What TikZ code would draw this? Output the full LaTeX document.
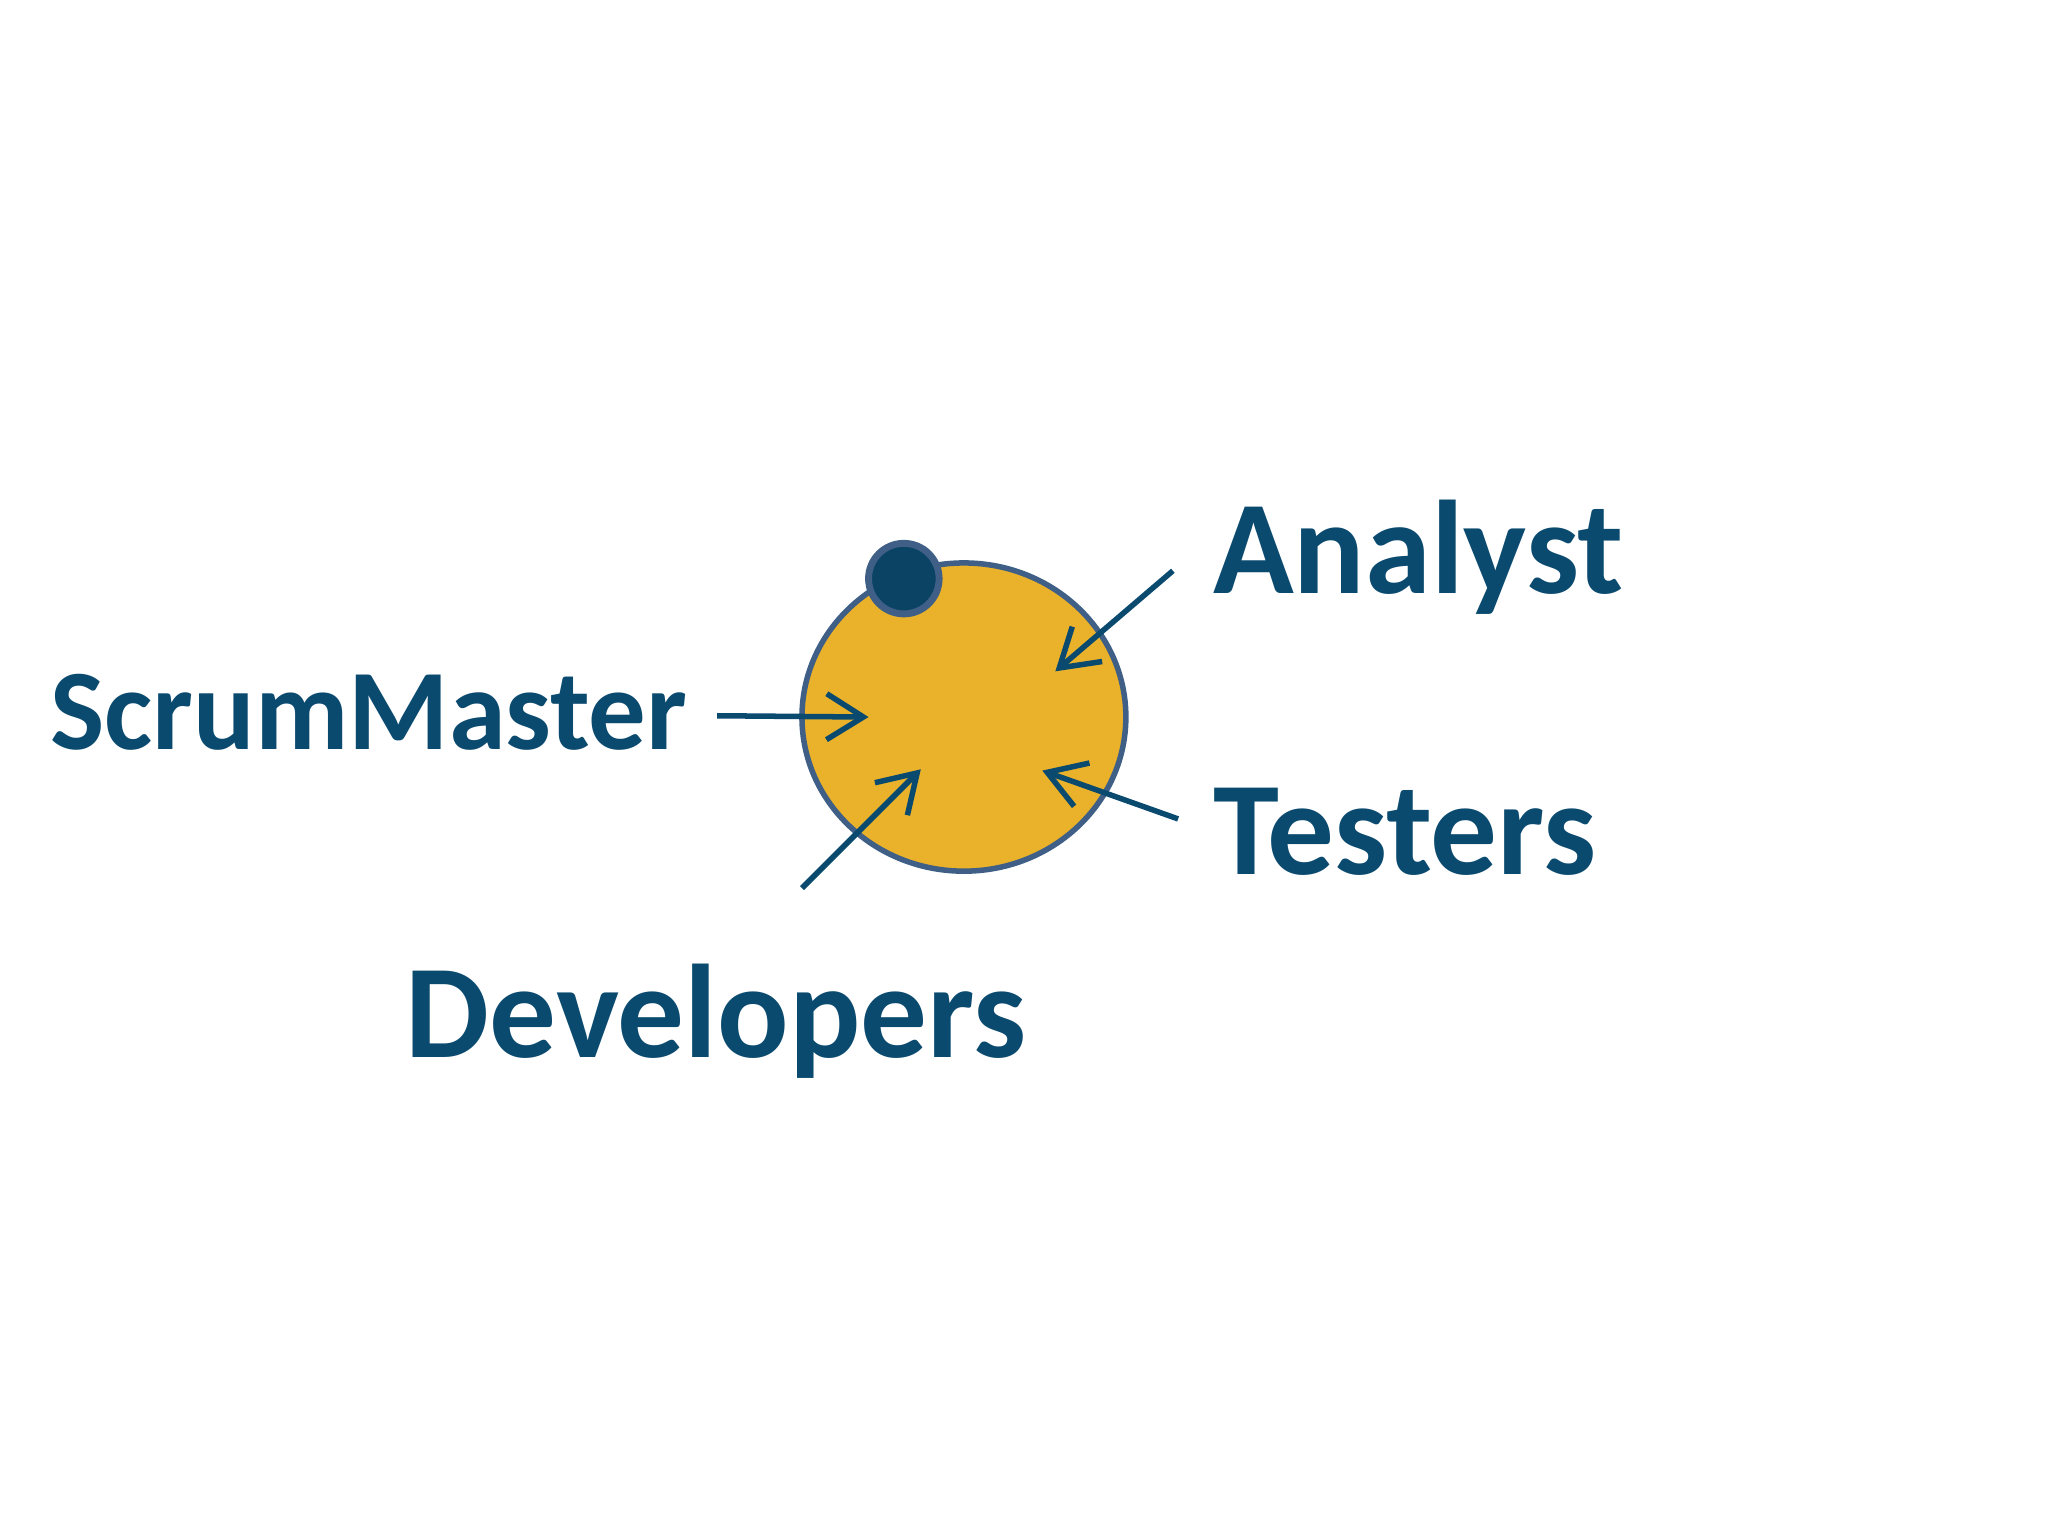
\documentclass[tikz,border=0pt]{standalone}
\usepackage{fontspec}
\setmainfont{Carlito}
\usetikzlibrary{arrows.meta}
\definecolor{navy}{HTML}{0B4A6F}
\definecolor{gold}{HTML}{EAB22A}
\definecolor{rim}{HTML}{3F5F86}
\begin{document}
\begin{tikzpicture}[x=0.01cm,y=-0.01cm,
  lbl/.style={text=navy,font=\bfseries\fontsize{29}{34}\selectfont,inner sep=0pt},
  arr/.style={draw=navy,line width=1.2pt,-{Straight Barb[length=8pt,width=10pt,line width=1.2pt]}}]
\useasboundingbox (0,0) rectangle (1568,1176);
\draw[rim,fill=gold,line width=1.2pt] (738,549) ellipse [x radius=124,y radius=118];
\node[circle,draw=rim,fill=navy!90!black,line width=1.5pt,minimum size=0.54cm,inner sep=0pt] (dot) at (692,443) {};
\node[lbl,anchor=west,font=\bfseries\fontsize{25}{30}\selectfont] (sm) at (38,545) {ScrumMaster};
\node[lbl,anchor=west] (an) at (928,427) {Analyst};
\node[lbl,anchor=west] (te) at (928,637) {Testers};
\node[lbl,anchor=west] (de) at (310,782) {Developers};
\coordinate (s1) at (549,548); \coordinate (e1) at (665,549);
\coordinate (s2) at (898,437); \coordinate (e2) at (808,514);
\coordinate (s3) at (902,627); \coordinate (e3) at (798,590);
\coordinate (s4) at (614,680); \coordinate (e4) at (705,589);
\draw[arr] (s1) -- (e1);
\draw[arr] (s2) -- (e2);
\draw[arr] (s3) -- (e3);
\draw[arr] (s4) -- (e4);
\end{tikzpicture}
\end{document}
